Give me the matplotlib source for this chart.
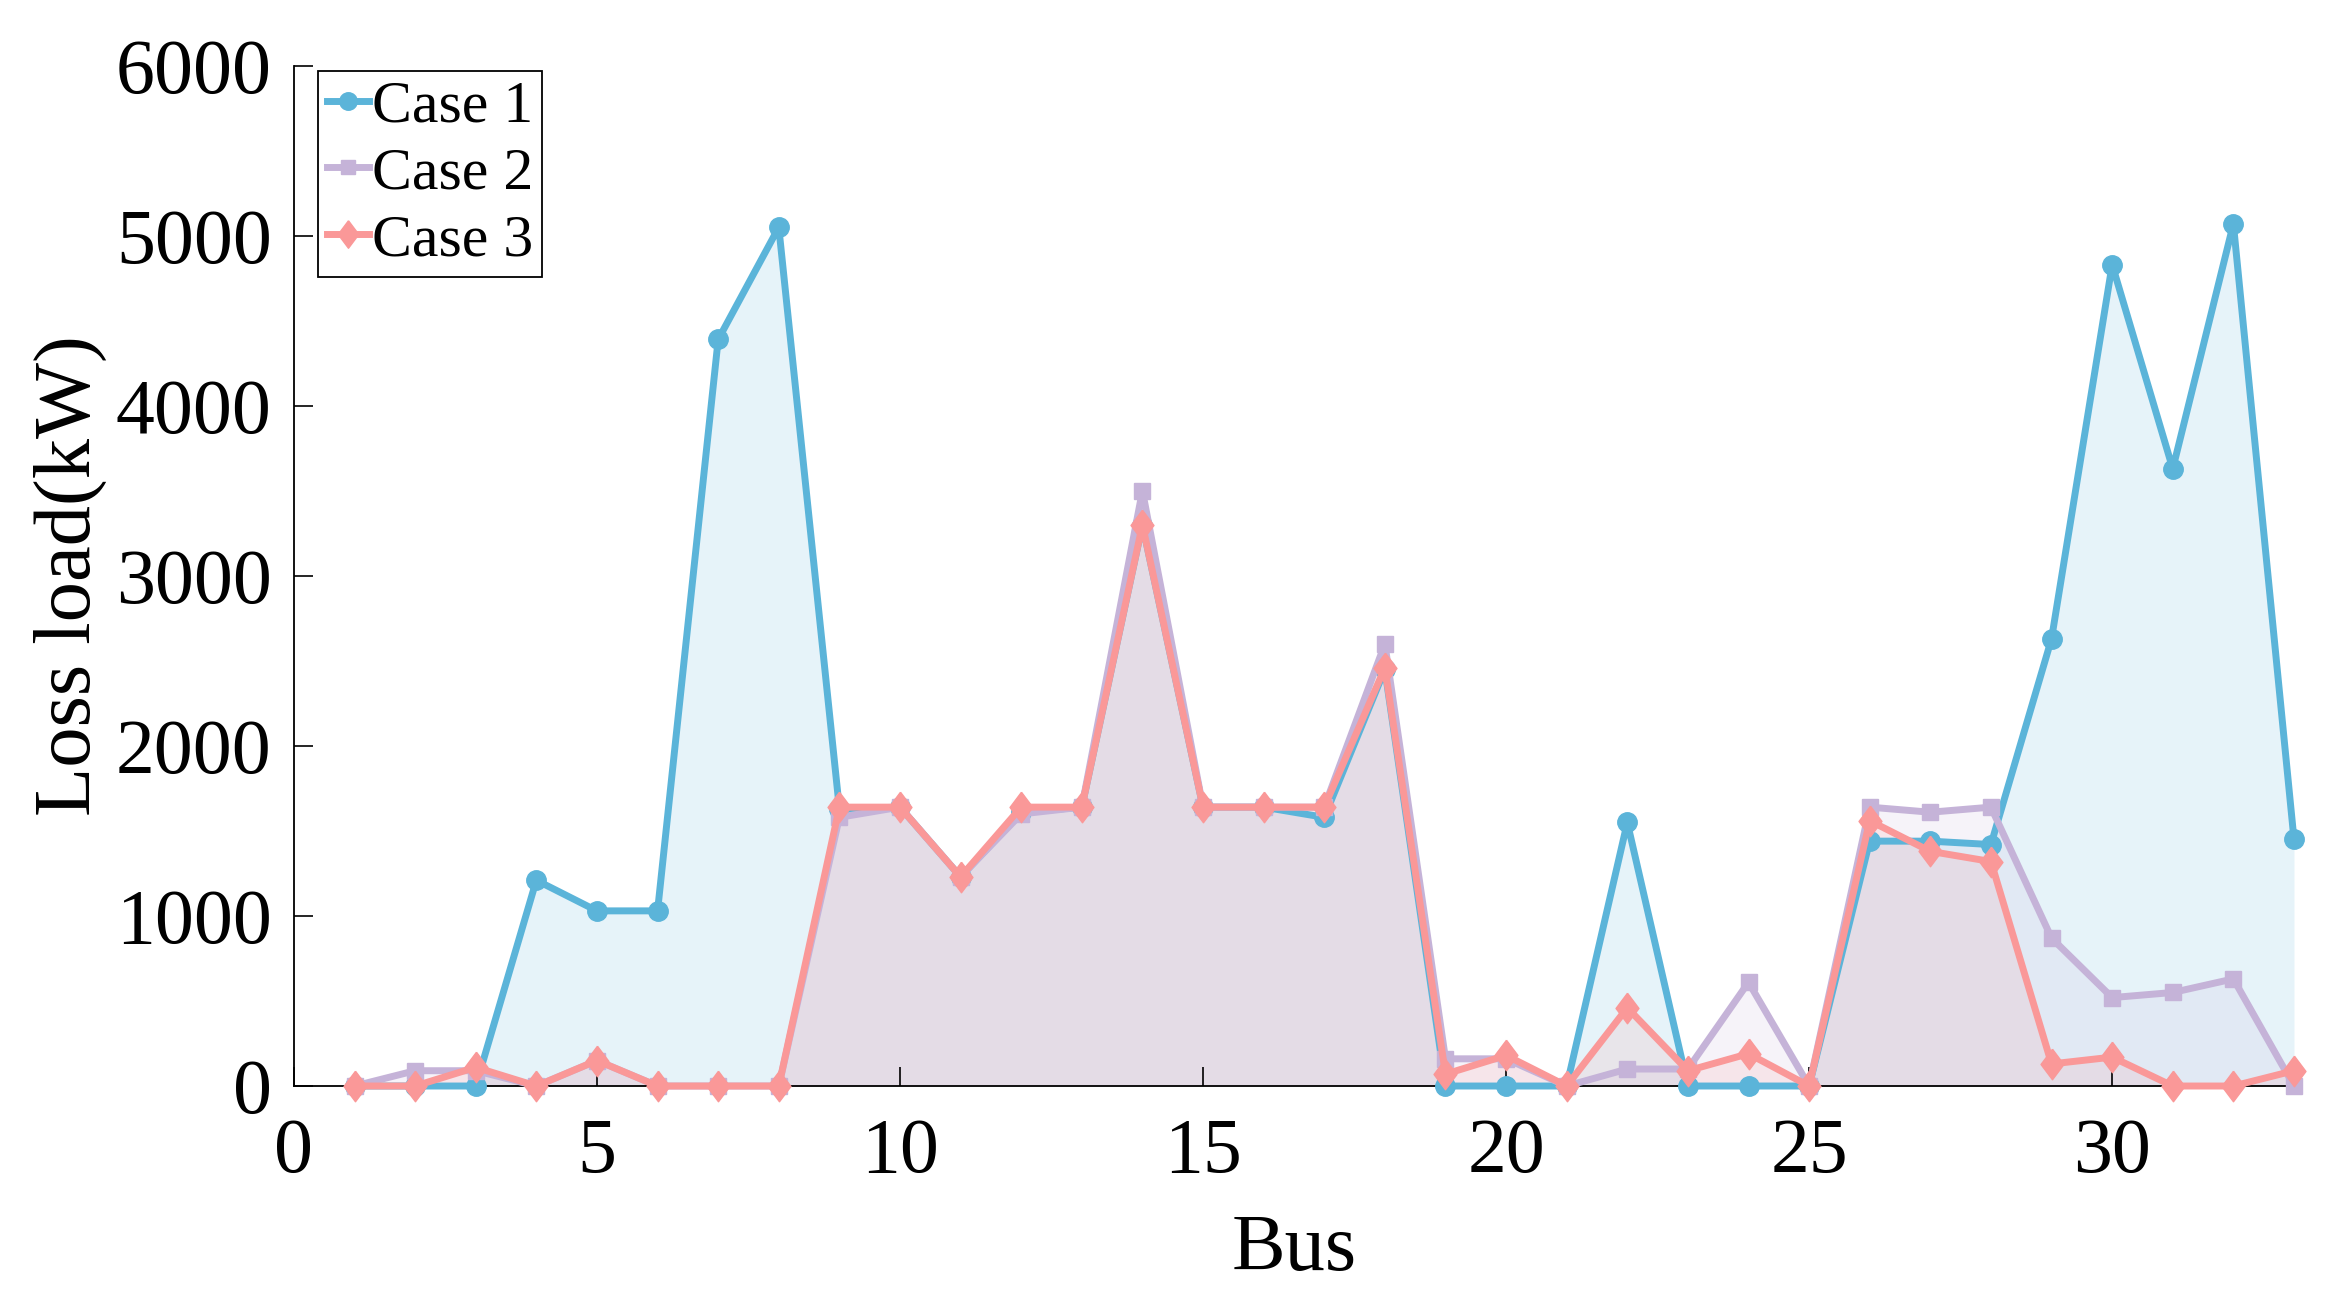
import numpy as np
import matplotlib
matplotlib.use("Agg")
import matplotlib.pyplot as plt

plt.rcParams['font.family'] = ['Liberation Serif', 'DejaVu Serif']

bus = np.arange(1, 34)

case1 = [0, 0, 0, 1210, 1030, 1030, 4390, 5050, 1630, 1640,
         1230, 1610, 1640, 3300, 1640, 1640, 1580, 2450, 0, 0,
         0, 1550, 0, 0, 0, 1440, 1440, 1420, 2630, 4830,
         3630, 5070, 1450]
case2 = [0, 90, 90, 0, 150, 0, 0, 0, 1580, 1640,
         1230, 1600, 1640, 3500, 1640, 1640, 1640, 2600, 160, 160,
         0, 100, 100, 610, 0, 1640, 1610, 1640, 870, 520,
         550, 630, 0]
case3 = [0, 0, 110, 0, 150, 0, 0, 0, 1640, 1640,
         1230, 1640, 1640, 3300, 1640, 1640, 1640, 2460, 70, 180,
         0, 460, 90, 190, 0, 1560, 1380, 1320, 130, 170,
         0, 0, 90]

labels = ['Case 1', 'Case 2', 'Case 3']
colors = ['#5BB4D9', '#C5B3D8', '#FA9898']
# losango um pouco mais alto que largo, como no original
losango = [(0, 1), (0.75, 0), (0, -1), (-0.75, 0), (0, 1)]
markers = ['o', 's', losango]
msizes = [14, 11.5, 22]

fig = plt.figure(figsize=(23.42, 13.14), dpi=100)
ax = fig.add_axes([0.1255, 0.1735, 0.854, 0.7765])

for y, lab, c, m, ms in zip([case1, case2, case3], labels, colors, markers, msizes):
    ax.fill_between(bus, 0, y, color=c, alpha=0.15, linewidth=0)
    ax.plot(bus, y, color=c, marker=m, markersize=ms, linewidth=5,
            label=lab, clip_on=False, zorder=3)

ax.set_xlim(0, 33)
ax.set_ylim(0, 6000)
ax.set_xticks([0, 5, 10, 15, 20, 25, 30])
ax.set_yticks(np.arange(0, 6001, 1000))
ax.tick_params(direction='in', length=14, width=1.2, labelsize=56, pad=16)
ax.tick_params(axis='x', pad=23)
ax.spines['top'].set_visible(False)
ax.spines['right'].set_visible(False)
for s in ['left', 'bottom']:
    ax.spines[s].set_linewidth(1.3)

ax.set_xlabel('Bus', fontsize=58, labelpad=18)
ax.set_ylabel('Loss load(kW)', fontsize=58, labelpad=6)

leg = ax.legend(loc='upper left', bbox_to_anchor=(0.012, 0.995), borderaxespad=0,
                fontsize=43, frameon=True, fancybox=False, framealpha=1,
                edgecolor='black', handlelength=0.7, handletextpad=0.05,
                labelspacing=0.2, borderpad=0.15, markerscale=0.9)
leg.get_frame().set_linewidth(1.3)

fig.savefig('out.png', dpi=100)
